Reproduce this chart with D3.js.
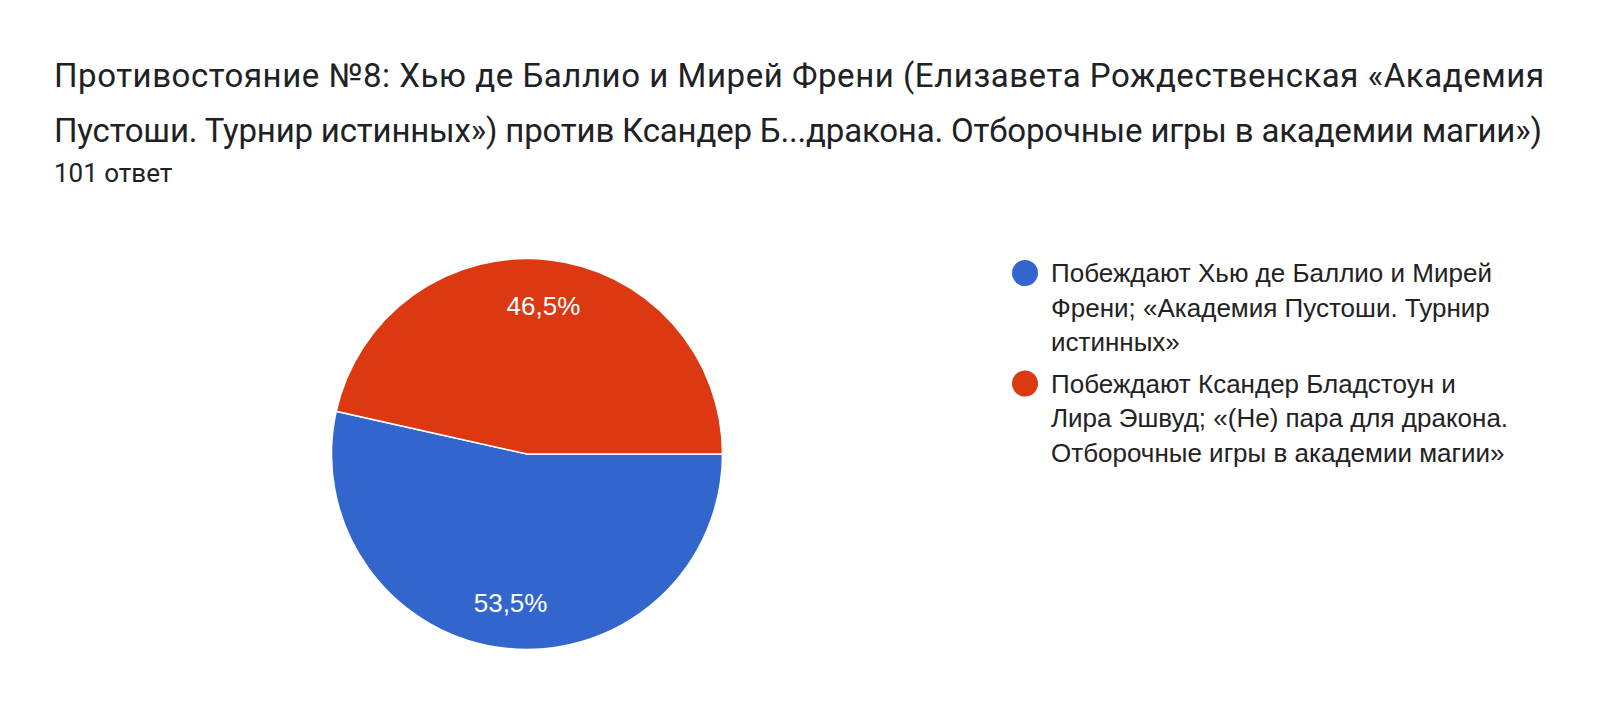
<html>
  <head>
    <title>Противостояние №8</title>
    <script src="https://cdnjs.cloudflare.com/ajax/libs/d3/7.8.5/d3.min.js"></script>
    <style type="text/css">
        * {
            padding: 0px;
            margin: 0px;
        }
        body {
            background: #ffffff;
            overflow: hidden;
        }
        text {
            font-family: Roboto, "Noto Sans", sans-serif;
        }
        .arial {
            font-family: "Liberation Sans", Arial, sans-serif;
        }
    </style>
  </head>
  <body>
    <svg id="viz"></svg>
  </body>
</html>

<script language="javascript">

    // chart data
    var titleLines = [
        "Противостояние №8: Хью де Баллио и Мирей Френи (Елизавета Рождественская «Академия",
        "Пустоши. Турнир истинных») против Ксандер Б...дракона. Отборочные игры в академии магии»)"
    ];
    var subtitle = "101 ответ";

    var categories = [
        "Побеждают Хью де Баллио и Мирей Френи; «Академия Пустоши. Турнир истинных»",
        "Побеждают Ксандер Бладстоун и Лира Эшвуд; «(Не) пара для дракона. Отборочные игры в академии магии»"
    ];
    // legend text is wrapped like in the original
    var legendLines = [
        ["Побеждают Хью де Баллио и Мирей", "Френи; «Академия Пустоши. Турнир", "истинных»"],
        ["Побеждают Ксандер Бладстоун и", "Лира Эшвуд; «(Не) пара для дракона.", "Отборочные игры в академии магии»"]
    ];
    var values = [53.5, 46.5];
    var colors = ["#3366cc", "#dc3912"];

    var w = 1600, h = 726;
    var cx = 527, cy = 454, r = 195.5;
    var titleWidths = [1490, 1488];

    var viz = d3.select("#viz")
        .attr("width", w)
        .attr("height", h);

    viz.append("rect")
        .attr("width", w)
        .attr("height", h)
        .style("fill", "#ffffff");

    // title
    viz.selectAll(".title")
        .data(titleLines)
        .enter()
        .append("text")
        .attr("class", "title")
        .attr("x", 54)
        .attr("y", (d, i) => 87 + i * 55)
        .attr("textLength", (d, i) => titleWidths[i])
        .attr("lengthAdjust", "spacing")
        .style("font-size", "33px")
        .style("fill", "#202124")
        .text(d => d);

    viz.append("text")
        .attr("x", 54)
        .attr("y", 182)
        .style("font-size", "26px")
        .style("fill", "#202124")
        .text(subtitle);

    // pie, starts at 3 o'clock and goes clockwise
    var pie = d3.pie()
        .sort(null)
        .startAngle(Math.PI / 2)
        .endAngle(Math.PI / 2 + 2 * Math.PI)
        .value(d => d);

    var arc = d3.arc()
        .innerRadius(0)
        .outerRadius(r);

    var labelArc = d3.arc()
        .innerRadius(r * 0.765)
        .outerRadius(r * 0.765);

    var g = viz.append("g")
        .attr("transform", "translate(" + cx + "," + cy + ")");

    var slices = pie(values);

    g.selectAll("path")
        .data(slices)
        .enter()
        .append("path")
        .attr("d", arc)
        .style("fill", (d, i) => colors[i])
        .style("stroke", "#ffffff")
        .style("stroke-width", 1.5);

    g.selectAll(".lbl")
        .data(slices)
        .enter()
        .append("text")
        .attr("class", "lbl arial")
        .attr("transform", d => "translate(" + labelArc.centroid(d) + ")")
        .attr("text-anchor", "middle")
        .attr("dy", ".36em")
        .style("font-size", "26px")
        .style("fill", "#ffffff")
        .text(d => d3.format(".1f")(d.value).replace(".", ",") + "%");

    // legend
    var legend = viz.selectAll(".legend")
        .data(categories)
        .enter()
        .append("g")
        .attr("class", "legend")
        .attr("transform", (d, i) => "translate(1025," + (273 + i * 110.5) + ")");

    legend.append("circle")
        .attr("r", 13)
        .style("fill", (d, i) => colors[i]);

    legend.each(function (d, i) {
        d3.select(this).selectAll("text")
            .data(legendLines[i])
            .enter()
            .append("text")
            .attr("class", "arial")
            .attr("x", 26)
            .attr("y", (t, j) => j * 34.5)
            .attr("dy", ".36em")
            .style("font-size", "26px")
            .style("fill", "#222222")
            .text(t => t);
    });
</script>
